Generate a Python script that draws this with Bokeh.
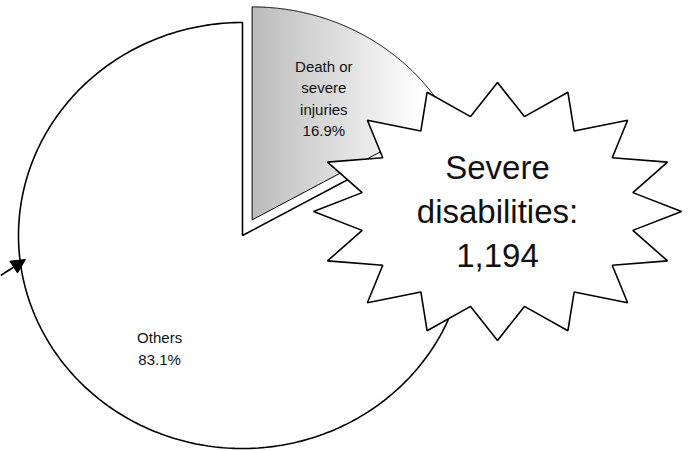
import numpy as np
from bokeh.plotting import figure
from bokeh.models import Range1d, Arrow, NormalHead
from bokeh.core.properties import value
from bokeh.embed import file_html
from bokeh.resources import INLINE

# ---- data ----
categories = ["Death or\nsevere\ninjuries", "Others"]
shares = [16.9, 83.1]
callout_label = "Severe\ndisabilities:"
callout_value = 1194

# ---- layout ----
W, H = 688, 451
cx_px, cy_px = 242, 235          # pie centre in figure pixels
rx_px, ry_px = 224, 213          # pixels per data unit (x, y)
x_lo, x_hi = -cx_px / rx_px, (W - cx_px) / rx_px
y_hi, y_lo = cy_px / ry_px, -(H - cy_px) / ry_px

FONT = value("Liberation Sans")

p = figure(width=W, height=H, x_range=Range1d(x_lo, x_hi), y_range=Range1d(y_lo, y_hi),
           output_backend="svg", toolbar_location=None, min_border=0)
p.axis.visible = False
p.grid.visible = False
p.outline_line_color = None
p.background_fill_color = "white"

fr = np.array(shares) / np.sum(shares)
cum = np.concatenate([[0], np.cumsum(fr)])
explode = [0.085, 0.0]
label_pos = [(0.363, 0.643), (-0.37, -0.53)]

slices = []
for i in range(len(shares)):
    a0 = np.deg2rad(90 - 360 * cum[i])
    a1 = np.deg2rad(90 - 360 * cum[i + 1])
    mid = (a0 + a1) / 2
    ox, oy = explode[i] * np.cos(mid), explode[i] * np.sin(mid)
    t = np.linspace(a0, a1, 300)
    xs = np.concatenate([[ox], ox + np.cos(t), [ox]])
    ys = np.concatenate([[oy], oy + np.sin(t), [oy]])
    slices.append((xs, ys, ox, oy, a0, a1))

# Others slice (white)
xs, ys, *_ = slices[1]
p.patch(xs, ys, fill_color="white", line_color="black", line_width=1.6)

# Death slice: horizontal gradient fill via masked image
xs, ys, ox, oy, a0, a1 = slices[0]
bx0, bx1 = xs.min(), xs.max()
by0, by1 = ys.min(), ys.max()
nc, nr = 500, 560
gx = np.linspace(bx0, bx1, nc)
gy = np.linspace(by0, by1, nr)
GX, GY = np.meshgrid(gx, gy)
dx, dy = GX - ox, GY - oy
rr = np.hypot(dx, dy)
ang = np.arctan2(dy, dx)
mask = (rr <= 1.0) & (ang >= a1) & (ang <= a0)
tt = np.clip((GX - bx0) / ((bx1 - bx0) * 0.85), 0, 1)
g = (188 + 67 * tt).astype(np.uint32)
img = np.zeros((nr, nc), dtype=np.uint32)
view = img.view(dtype=np.uint8).reshape((nr, nc, 4))
view[..., 0] = g
view[..., 1] = g
view[..., 2] = g
view[..., 3] = np.where(mask, 255, 0)
p.image_rgba(image=[img], x=bx0, y=by0, dw=bx1 - bx0, dh=by1 - by0)
p.patch(xs, ys, fill_alpha=0, line_color="black", line_width=1.0)

# slice labels
for i in range(len(shares)):
    lx, ly = label_pos[i]
    p.text(x=[lx], y=[ly], text=[f"{categories[i]}\n{shares[i]:.1f}%"],
           text_font=FONT, text_font_size="15px", text_align="center",
           text_baseline="middle", text_line_height=1.25, text_color="#111111")

# starburst callout
scx, scy = (497 - cx_px) / rx_px, (cy_px - 211) / ry_px
srx, sry = 184 / rx_px, 129 / ry_px
n = 16
sa = []
for k in range(n):
    sa.append((np.deg2rad(90 + k * 360 / n), 1.0))
    sa.append((np.deg2rad(90 + k * 360 / n + 180 / n), 0.75))
sx = [scx + f * srx * np.cos(a) for a, f in sa]
sy = [scy + f * sry * np.sin(a) for a, f in sa]
p.patch(sx, sy, fill_color="white", line_color="black", line_width=1.6)
p.text(x=[scx], y=[scy], text=[f"{callout_label}\n{callout_value:,}"],
       text_font=FONT, text_font_size="33px", text_align="center",
       text_baseline="middle", text_line_height=1.2, text_color="#111111")

# arrow pointing at the pie edge
tip_a, tail_a = np.deg2rad(186.63), np.deg2rad(189.87)
tip_r, tail_r = 0.9755, 1.0962
p.add_layout(Arrow(end=NormalHead(size=14, fill_color="black", line_color="black"),
                   x_start=tail_r * np.cos(tail_a), y_start=tail_r * np.sin(tail_a),
                   x_end=tip_r * np.cos(tip_a), y_end=tip_r * np.sin(tip_a),
                   line_color="black", line_width=1.6))

open("out.html", "w").write(file_html(p, INLINE))
